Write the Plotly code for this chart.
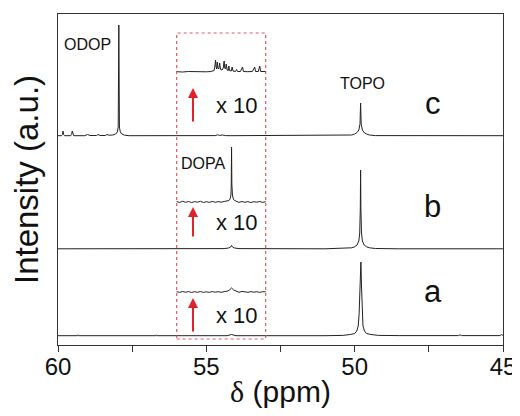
import plotly.graph_objects as go

# ---------------- data (ppm, intensity in a.u.) ----------------
c_ppm = [60.00, 59.88, 59.85, 59.83, 59.81, 59.78, 59.57, 59.54, 59.52, 59.50,
         59.47, 59.10, 59.00, 58.92, 58.70, 58.65, 58.58, 58.40, 58.35, 58.28,
         58.15, 58.06, 58.00, 57.97, 57.95, 57.93, 57.90, 57.85, 57.75, 57.60,
         55.00, 54.70, 54.62, 54.55, 54.45, 54.35, 54.20, 51.00, 50.30, 50.10,
         50.00, 49.92, 49.86, 49.82, 49.80, 49.78, 49.74, 49.68, 49.60, 49.50,
         49.30, 45.00]
c_int = [0.3, 0.3, 1.5, 5.0, 1.5, 0.3, 0.3, 1.5, 5.0, 1.5,
         0.3, 0.3, 1.5, 0.5, 0.5, 1.5, 0.5, 0.5, 1.5, 0.8,
         1.0, 2.0, 4.0, 9.0, 111, 9.0, 4.0, 2.0, 0.8, 0.3,
         0.3, 0.4, 1.2, 0.6, 1.0, 0.4, 0.3, 0.3, 0.4, 1.0,
         2.0, 3.5, 6.0, 12.0, 33, 12.0, 6.0, 3.5, 2.0, 1.0,
         0.4, 0.3]

c10_ppm = [56.00, 55.80, 55.60, 55.40, 55.20, 55.00, 54.85, 54.74, 54.71, 54.69,
           54.67, 54.65, 54.63, 54.61, 54.58, 54.55, 54.52, 54.47, 54.43, 54.40,
           54.38, 54.35, 54.33, 54.30, 54.26, 54.24, 54.22, 54.16, 54.13, 54.10,
           54.02, 53.98, 53.95, 53.85, 53.78, 53.75, 53.60, 53.45, 53.37, 53.34,
           53.25, 53.20, 53.17, 53.00]
c10_int = [0.3, 0.0, 0.5, 0.2, 0.6, 0.2, 0.5, 1.5, 6, 12,
           5, 3, 10, 4, 3, 9, 2.5, 2, 4, 11,
           4, 3, 8, 2, 1.5, 6, 1.5, 1, 5, 1,
           0.5, 2.5, 0.5, 0.5, 5, 0.5, 0.3, 0.5, 5, 0.5,
           0.5, 6, 0.5, 0.5]

b_ppm = [60.00, 57.00, 55.00, 54.40, 54.25, 54.18, 54.15, 54.12, 54.05, 53.90,
         51.00, 50.30, 50.10, 50.00, 49.92, 49.86, 49.83, 49.81, 49.80, 49.79,
         49.77, 49.74, 49.68, 49.60, 49.50, 49.30, 48.50, 45.00]
b_int = [0.2, 0.2, 0.3, 0.4, 1.0, 2.0, 3.5, 2.0, 1.0, 0.4,
         0.2, 0.5, 1.2, 2.2, 4.0, 8.0, 16, 40, 79, 40,
         16, 8.0, 4.0, 2.2, 1.2, 0.5, 0.2, 0.2]

b10_ppm = [56.00, 55.90, 55.80, 55.70, 55.60, 55.50, 55.40, 55.30, 55.20, 55.10,
           55.00, 54.90, 54.80, 54.70, 54.60, 54.50, 54.40, 54.30, 54.24, 54.20,
           54.17, 54.16, 54.15, 54.14, 54.12, 54.09, 54.05, 53.98, 53.90, 53.80,
           53.70, 53.60, 53.50, 53.40, 53.30, 53.20, 53.10, 53.00]
b10_int = [0.5, -0.5, 0.8, -0.3, 0.5, -0.6, 0.4, -0.2, 0.7, -0.5,
           0.3, -0.4, 0.6, -0.3, 0.4, -0.2, 0.5, 0.8, 1.5, 3,
           7, 18, 55, 18, 7, 3, 1.5, 0.5, -0.4, 0.5,
           -0.3, 0.4, -0.5, 0.3, -0.2, 0.5, -0.4, 0.3]

a_ppm = [60.00, 59.35, 59.33, 59.31, 56.70, 56.68, 56.66, 54.30, 54.15, 54.00,
         51.00, 50.40, 50.15, 50.00, 49.93, 49.88, 49.85, 49.83, 49.81, 49.79,
         49.77, 49.75, 49.72, 49.67, 49.60, 49.45, 49.20, 48.50, 46.50, 46.45,
         46.40, 45.10, 45.05, 45.00]
a_int = [0.3, 0.3, 1.2, 0.3, 0.3, 1.2, 0.3, 0.3, 1.5, 0.3,
         0.3, 0.6, 1.5, 2.5, 5, 10, 22, 50, 74, 74,
         50, 22, 10, 5, 2.5, 1.5, 0.6, 0.4, 0.4, 1.2,
         0.4, 0.4, 1.5, 0.4]

a10_ppm = [56.00, 55.90, 55.80, 55.70, 55.60, 55.50, 55.40, 55.30, 55.20, 55.10,
           55.00, 54.90, 54.80, 54.70, 54.60, 54.50, 54.40, 54.30, 54.22, 54.15,
           54.08, 54.00, 53.90, 53.80, 53.70, 53.60, 53.50, 53.40, 53.30, 53.20,
           53.10, 53.00]
a10_int = [0.3, -0.4, 0.5, -0.2, 0.4, -0.5, 0.3, -0.3, 0.5, -0.4,
           0.2, -0.3, 0.4, -0.2, 0.3, -0.3, 0.3, 0.8, 2.0, 4.0,
           2.0, 0.8, -0.3, 0.6, 0.2, -0.3, 0.4, -0.2, 0.3, -0.4,
           0.3, 0.2]

x_ticks = [60, 55, 50, 45]
x_ticklabels = ["60", "55", "50", "45"]

# vertical stacking offsets
offsets = {"a": 9, "b": 96, "c": 209, "a10": 53, "b10": 143, "c10": 273}

FONT = "Liberation Sans, Arial, sans-serif"
LINE = "#222222"
RED = "#e0202a"

fig = go.Figure()
series = [("a", a_ppm, a_int), ("b", b_ppm, b_int), ("c", c_ppm, c_int),
          ("a10", a10_ppm, a10_int), ("b10", b10_ppm, b10_int), ("c10", c10_ppm, c10_int)]
for name, xs, ys in series:
    off = offsets[name]
    fig.add_trace(go.Scatter(x=xs, y=[v + off for v in ys], mode="lines",
                             line=dict(color=LINE, width=1), showlegend=False,
                             hoverinfo="skip"))

# dotted red box around inset region
fig.add_shape(type="rect", x0=56, x1=53, y0=6, y1=312, xref="x", yref="y",
              line=dict(color="rgba(215,60,80,0.85)", width=1.2, dash="dot"))

# red arrows
for y0, y1 in [(222, 257), (107, 138), (12, 47)]:
    fig.add_annotation(x=55.45, y=y1, ax=55.45, ay=y0, xref="x", yref="y",
                       axref="x", ayref="y", text="", showarrow=True,
                       arrowhead=2, arrowsize=1, arrowwidth=2, arrowcolor=RED)

texts = [
    ("ODOP", 59.0, 301, 16),
    ("TOPO", 49.75, 262, 16),
    ("DOPA", 55.1, 182, 16),
    ("c", 47.36, 242, 31),
    ("b", 47.36, 139, 31),
    ("a", 47.36, 54, 31),
    ("x 10", 53.95, 240, 22),
    ("x 10", 53.95, 123, 22),
    ("x 10", 53.95, 30, 22),
]
for t, x, y, s in texts:
    fig.add_annotation(x=x, y=y, text=t, showarrow=False, xref="x", yref="y",
                       font=dict(family=FONT, size=s, color="#111111"))

# page body has an 8px default margin, so margins are offset to compensate
fig.update_layout(
    width=520, height=416,
    margin=dict(l=50, r=25, t=6, b=79, autoexpand=False),
    paper_bgcolor="white", plot_bgcolor="white",
    font=dict(family=FONT, color="#111111"),
    xaxis=dict(range=[60, 45], tickvals=x_ticks, ticktext=x_ticklabels,
               ticks="", showgrid=False, zeroline=False, automargin=False,
               showline=True, mirror=True, linecolor="#333333", linewidth=1.3,
               tickfont=dict(size=24, family=FONT, color="#111111"),
               minor=dict(dtick=2.5, tick0=45, ticks="outside", ticklen=6,
                          tickcolor="#333333", tickwidth=1.3, showgrid=False),
               title=dict(text="<span style='font-family:Liberation Serif'>δ</span> (ppm)",
                          font=dict(size=30, family=FONT, color="#111111"),
                          standoff=2)),
    yaxis=dict(range=[0, 331], showticklabels=False, ticks="", showgrid=False,
               zeroline=False, showline=True, mirror=True, linecolor="#333333",
               linewidth=1.3, automargin=False,
               title=dict(text="Intensity (a.u.)",
                          font=dict(size=33, family=FONT, color="#111111"),
                          standoff=10)),
)

fig.write_html("out.html")
